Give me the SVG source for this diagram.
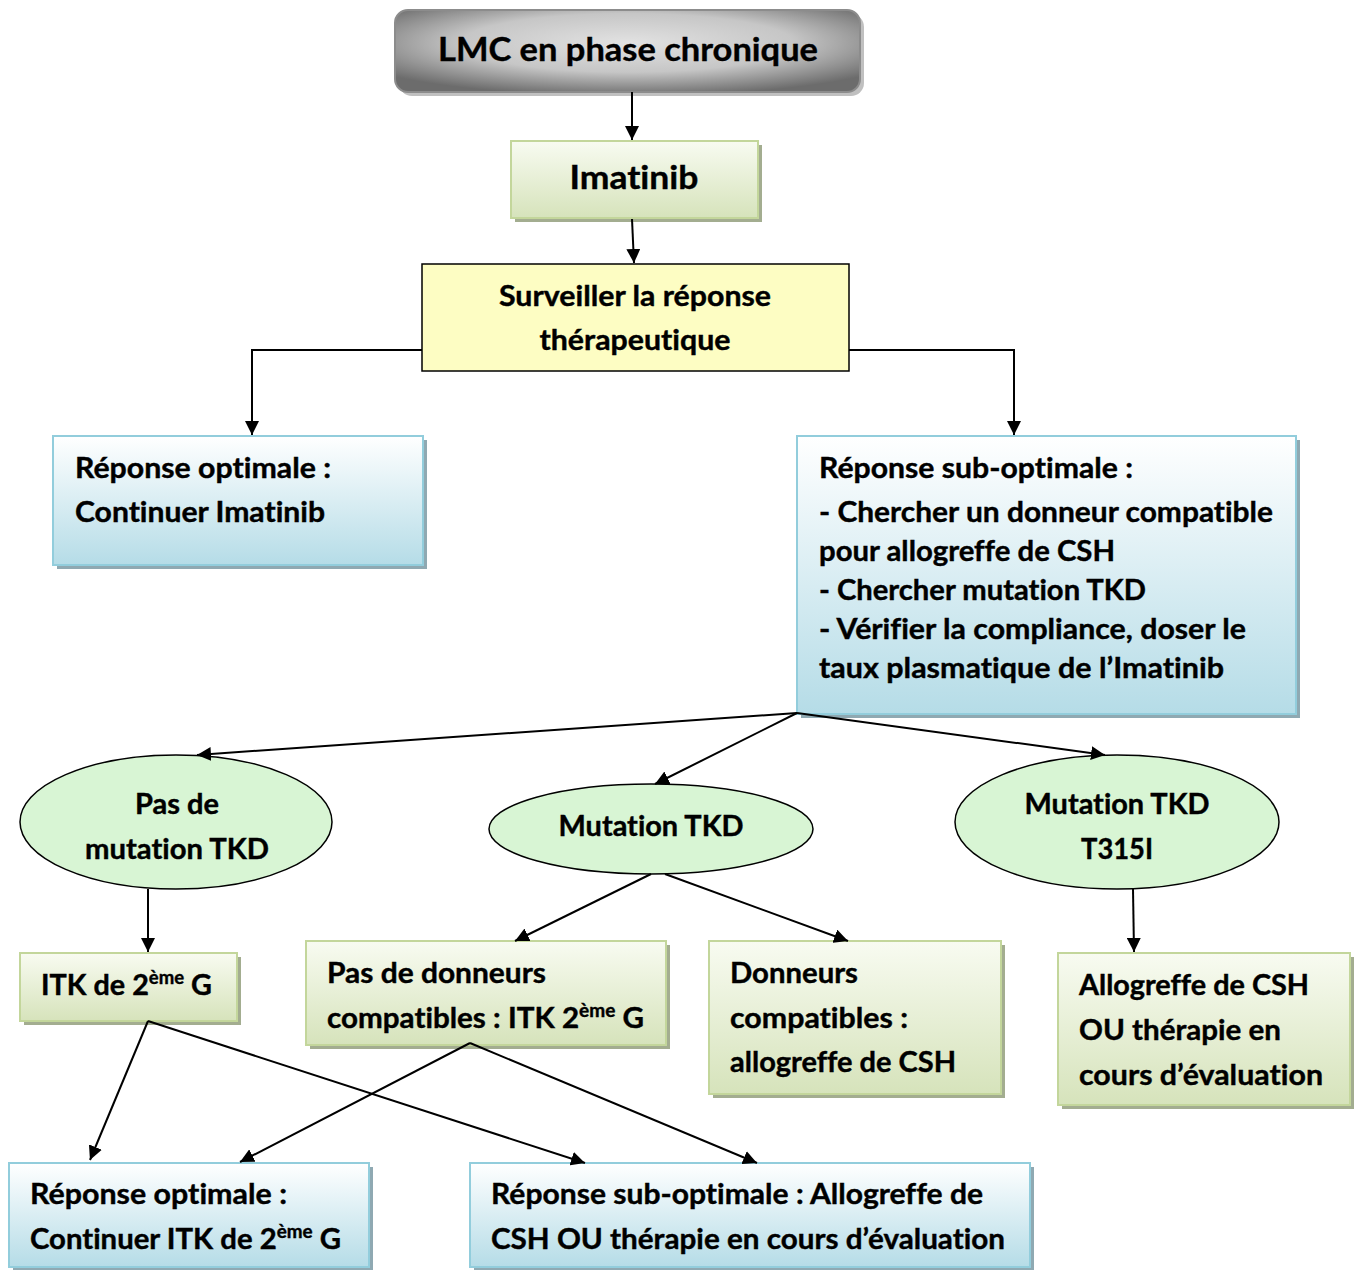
<svg xmlns="http://www.w3.org/2000/svg" width="1356" height="1270" viewBox="0 0 1356 1270">
<defs>
<radialGradient id="gGray" cx="50%" cy="40%" r="65%">
<stop offset="0" stop-color="#e2e2e2"/>
<stop offset="0.55" stop-color="#c6c6c6"/>
<stop offset="1" stop-color="#6c6c6c"/>
</radialGradient>
<linearGradient id="gGreen" x1="0" y1="0" x2="0" y2="1">
<stop offset="0" stop-color="#f8fbf1"/>
<stop offset="1" stop-color="#d6e3bb"/>
</linearGradient>
<linearGradient id="gBlue" x1="0" y1="0" x2="0" y2="1">
<stop offset="0" stop-color="#ffffff"/>
<stop offset="1" stop-color="#b5dce7"/>
</linearGradient>
<marker id="ah" viewBox="0 0 14 14" refX="14" refY="7" markerWidth="14" markerHeight="14" orient="auto" markerUnits="userSpaceOnUse">
<path d="M0,0 L14,7 L0,14 z" fill="#000"/>
</marker>
</defs>
<style>
text{font-family:Lato,"Open Sans","Liberation Sans",sans-serif;font-weight:bold;fill:#000;font-variant-ligatures:none;stroke:#000;stroke-width:0.4;}
.t{font-size:28px;}
.big{font-size:33px;}
.mid{text-anchor:middle;}
.green{fill:url(#gGreen);stroke:#c3d69b;stroke-width:2;}
.gsh{fill:#a3ad90;}
.blue{fill:url(#gBlue);stroke:#92cddc;stroke-width:2;}
.bsh{fill:#8fa9b2;}
.ell{fill:#d8f5d4;stroke:#000;stroke-width:1.5;}
.con line,.con polyline{stroke:#000;stroke-width:2;fill:none;marker-end:url(#ah);}
.sup{font-size:18px;}
</style>
<rect width="1356" height="1270" fill="#fff"/>

<g id="n-lmc">
<rect x="399" y="14" width="465" height="82" rx="13" fill="#c0c0c0"/>
<rect x="395" y="10" width="465" height="82" rx="13" fill="url(#gGray)" stroke="#8c8c8c" stroke-width="2"/>
<text class="big mid" x="628" y="61" textLength="380" lengthAdjust="spacingAndGlyphs">LMC en phase chronique</text>
</g>

<g id="n-imatinib">
<rect class="gsh" x="515" y="145" width="247" height="77"/>
<rect class="green" x="511" y="141" width="247" height="77"/>
<text class="big mid" x="634" y="189" textLength="129" lengthAdjust="spacingAndGlyphs">Imatinib</text>
</g>

<g id="n-surveiller">
<rect x="422" y="264" width="427" height="107" fill="#fdfdc3" stroke="#000" stroke-width="1.5"/>
<text class="t mid" x="635" y="306" textLength="272" lengthAdjust="spacingAndGlyphs">Surveiller la réponse</text>
<text class="t mid" x="635" y="350" textLength="191" lengthAdjust="spacingAndGlyphs">thérapeutique</text>
</g>

<g id="n-optimale">
<rect class="bsh" x="57" y="440" width="370" height="129"/>
<rect class="blue" x="53" y="436" width="370" height="129"/>
<text class="t" x="75" y="478" textLength="256" lengthAdjust="spacingAndGlyphs">Réponse optimale :</text>
<text class="t" x="75" y="522" textLength="250" lengthAdjust="spacingAndGlyphs">Continuer Imatinib</text>
</g>

<g id="n-suboptimale">
<rect class="bsh" x="801" y="440" width="499" height="278"/>
<rect class="blue" x="797" y="436" width="499" height="278"/>
<text class="t" x="819" y="478" textLength="314" lengthAdjust="spacingAndGlyphs">Réponse sub-optimale :</text>
<text class="t" x="819" y="522" textLength="454" lengthAdjust="spacingAndGlyphs">- Chercher un donneur compatible</text>
<text class="t" x="819" y="561" textLength="296" lengthAdjust="spacingAndGlyphs">pour allogreffe de CSH</text>
<text class="t" x="819" y="600" textLength="327" lengthAdjust="spacingAndGlyphs">- Chercher mutation TKD</text>
<text class="t" x="819" y="639" textLength="427" lengthAdjust="spacingAndGlyphs">- Vérifier la compliance, doser le</text>
<text class="t" x="819" y="678" textLength="405" lengthAdjust="spacingAndGlyphs">taux plasmatique de l’Imatinib</text>
</g>

<g id="n-pasmutation">
<ellipse class="ell" cx="176" cy="822" rx="156" ry="67"/>
<text class="t mid" x="177" y="814" textLength="84" lengthAdjust="spacingAndGlyphs">Pas de</text>
<text class="t mid" x="177" y="859" textLength="184" lengthAdjust="spacingAndGlyphs">mutation TKD</text>
</g>

<g id="n-mutation">
<ellipse class="ell" cx="651" cy="829" rx="162" ry="45"/>
<text class="t mid" x="651" y="836" textLength="185" lengthAdjust="spacingAndGlyphs">Mutation TKD</text>
</g>

<g id="n-t315i">
<ellipse class="ell" cx="1117" cy="822" rx="162" ry="67"/>
<text class="t mid" x="1117" y="814" textLength="185" lengthAdjust="spacingAndGlyphs">Mutation TKD</text>
<text class="t mid" x="1117" y="859" textLength="72" lengthAdjust="spacingAndGlyphs">T315I</text>
</g>

<g id="n-itk">
<rect class="gsh" x="24" y="957" width="217" height="68"/>
<rect class="green" x="20" y="953" width="217" height="68"/>
<text class="t" x="41" y="995" textLength="171" lengthAdjust="spacingAndGlyphs">ITK de 2<tspan class="sup" dy="-11">ème</tspan><tspan dy="11"> G</tspan></text>
</g>

<g id="n-pasdonneurs">
<rect class="gsh" x="310" y="945" width="360" height="104"/>
<rect class="green" x="306" y="941" width="360" height="104"/>
<text class="t" x="327" y="983" textLength="219" lengthAdjust="spacingAndGlyphs">Pas de donneurs</text>
<text class="t" x="327" y="1028" textLength="317" lengthAdjust="spacingAndGlyphs">compatibles : ITK 2<tspan class="sup" dy="-11">ème</tspan><tspan dy="11"> G</tspan></text>
</g>

<g id="n-donneurs">
<rect class="gsh" x="713" y="945" width="292" height="153"/>
<rect class="green" x="709" y="941" width="292" height="153"/>
<text class="t" x="730" y="983" textLength="128" lengthAdjust="spacingAndGlyphs">Donneurs</text>
<text class="t" x="730" y="1028" textLength="178" lengthAdjust="spacingAndGlyphs">compatibles :</text>
<text class="t" x="730" y="1072" textLength="226" lengthAdjust="spacingAndGlyphs">allogreffe de CSH</text>
</g>

<g id="n-allogreffe">
<rect class="gsh" x="1062" y="957" width="292" height="152"/>
<rect class="green" x="1058" y="953" width="292" height="152"/>
<text class="t" x="1079" y="995" textLength="230" lengthAdjust="spacingAndGlyphs">Allogreffe de CSH</text>
<text class="t" x="1079" y="1040" textLength="202" lengthAdjust="spacingAndGlyphs">OU thérapie en</text>
<text class="t" x="1079" y="1085" textLength="244" lengthAdjust="spacingAndGlyphs">cours d’évaluation</text>
</g>

<g id="n-optimale2">
<rect class="bsh" x="13" y="1167" width="360" height="104"/>
<rect class="blue" x="9" y="1163" width="360" height="104"/>
<text class="t" x="30" y="1204" textLength="257" lengthAdjust="spacingAndGlyphs">Réponse optimale :</text>
<text class="t" x="30" y="1249" textLength="311" lengthAdjust="spacingAndGlyphs">Continuer ITK de 2<tspan class="sup" dy="-11">ème</tspan><tspan dy="11"> G</tspan></text>
</g>

<g id="n-suboptimale2">
<rect class="bsh" x="474" y="1167" width="560" height="104"/>
<rect class="blue" x="470" y="1163" width="560" height="104"/>
<text class="t" x="491" y="1204" textLength="492" lengthAdjust="spacingAndGlyphs">Réponse sub-optimale : Allogreffe de</text>
<text class="t" x="491" y="1249" textLength="514" lengthAdjust="spacingAndGlyphs">CSH OU thérapie en cours d’évaluation</text>
</g>

<g id="connectors" class="con">
<line x1="632" y1="92" x2="632" y2="140"/>
<line x1="632" y1="219" x2="634" y2="263"/>
<polyline points="422,350 252,350 252,435"/>
<polyline points="849,350 1014,350 1014,435"/>
<line x1="797" y1="713" x2="197" y2="755"/>
<line x1="797" y1="713" x2="655" y2="784"/>
<line x1="797" y1="713" x2="1105" y2="755"/>
<line x1="148" y1="889" x2="148" y2="952"/>
<line x1="651" y1="874" x2="515" y2="941"/>
<line x1="665" y1="874" x2="848" y2="941"/>
<line x1="1133" y1="889" x2="1134" y2="952"/>
<line x1="148" y1="1021" x2="90" y2="1160"/>
<line x1="148" y1="1021" x2="585" y2="1163"/>
<line x1="470" y1="1043" x2="240" y2="1162"/>
<line x1="470" y1="1043" x2="757" y2="1163"/>
</g>
</svg>
